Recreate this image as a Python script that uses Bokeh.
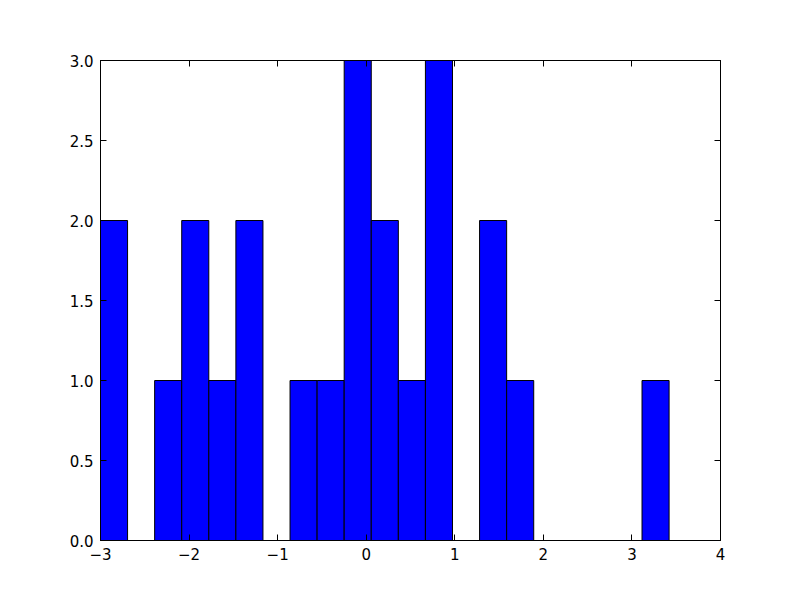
from bokeh.plotting import figure
from bokeh.models import Range1d, FixedTicker, LinearAxis
from bokeh.embed import file_html
from bokeh.resources import INLINE

# Histogram data
bin_start = -3.0
bin_width = 0.3057
counts = [2, 0, 1, 2, 1, 2, 0, 1, 1, 3, 2, 1, 3, 0, 2, 1, 0, 0, 0, 0, 1]
x_ticks = [-3, -2, -1, 0, 1, 2, 3, 4]
x_tick_labels = ["\u22123", "\u22122", "\u22121", "0", "1", "2", "3", "4"]
y_ticks = [0.0, 0.5, 1.0, 1.5, 2.0, 2.5, 3.0]
y_tick_labels = ["0.0", "0.5", "1.0", "1.5", "2.0", "2.5", "3.0"]

lefts = [bin_start + i * bin_width for i in range(len(counts))]
rights = [l + bin_width for l in lefts]
bl, br, bt = [], [], []
for l, r, c in zip(lefts, rights, counts):
    if c > 0:
        bl.append(l); br.append(r); bt.append(c)

p = figure(width=784, height=584, output_backend="svg", toolbar_location=None,
           x_range=Range1d(-3, 4), y_range=Range1d(0, 3),
           min_border_left=100, min_border_right=64, min_border_top=60, min_border_bottom=44)
p.xgrid.visible = False
p.ygrid.visible = False
p.background_fill_color = "white"
p.border_fill_color = "white"
p.outline_line_color = "black"
p.outline_line_width = 1

p.quad(left=bl, right=br, top=bt, bottom=0, fill_color="#0000ff", line_color="black", line_width=1)

font = "DejaVu Sans"
fsize = "15px"

def style(ax, ticks, labels, show_labels):
    ax.ticker = FixedTicker(ticks=ticks)
    ax.major_label_overrides = {t: lab for t, lab in zip(ticks, labels)}
    ax.major_tick_in = 6
    ax.major_tick_out = 0
    ax.minor_tick_in = 0
    ax.minor_tick_out = 0
    ax.axis_line_color = "black"
    ax.major_tick_line_color = "black"
    ax.major_label_text_font = font
    ax.major_label_text_font_size = fsize
    ax.major_label_text_color = "black"
    ax.major_label_standoff = 7
    if not show_labels:
        ax.major_label_text_alpha = 0
        ax.major_label_text_font_size = "0px"

style(p.xaxis[0], x_ticks, x_tick_labels, True)
style(p.yaxis[0], y_ticks, y_tick_labels, True)

top_ax = LinearAxis()
right_ax = LinearAxis()
style(top_ax, x_ticks, x_tick_labels, False)
style(right_ax, y_ticks, y_tick_labels, False)
p.add_layout(top_ax, "above")
p.add_layout(right_ax, "right")

open("out.html", "w").write(file_html(p, INLINE))
